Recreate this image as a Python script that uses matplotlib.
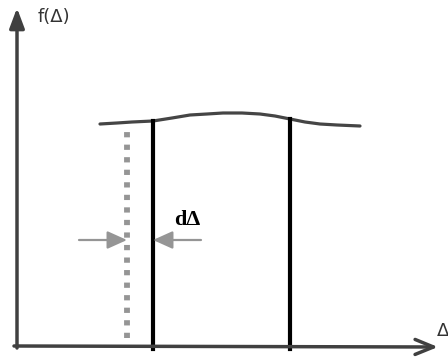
import matplotlib.pyplot as plt

# curve f(delta), read along the distribution (x = delta, y = f)
curve_x = [83, 100, 115, 136, 155, 173, 190, 206, 225, 243, 258, 273, 288, 303, 320, 343]
curve_y = [222, 223, 224, 225, 228, 231, 232, 233, 233, 232, 230, 227, 224, 222, 221, 220]

# positions of the vertical lines
solid_x = [136, 273]
solid_top = [225, 227]
dotted_x = 110
dotted_span = (8, 221)

# the d-delta marker
arrow_y = 106
left_arrow = (62, 110)
right_arrow = (184, 136)

axis_color = "#404040"
gray = "#959595"

fig = plt.figure(figsize=(4.48, 3.62), dpi=100)
ax = fig.add_axes([0, 0, 1, 1])
ax.set_xlim(-17, 431)
ax.set_ylim(-16, 346)
ax.axis("off")

# axes with arrow heads
ax.annotate("", xy=(0, 338), xytext=(0, -2),
            arrowprops=dict(arrowstyle="-|>,head_length=1.2,head_width=0.45",
                            mutation_scale=10, lw=2.5, color=axis_color,
                            shrinkA=0, shrinkB=0))
ax.annotate("", xy=(421, -1), xytext=(-3, 0),
            arrowprops=dict(arrowstyle="->,head_length=1.1,head_width=0.45",
                            mutation_scale=12, lw=2.5, color=axis_color,
                            shrinkA=0, shrinkB=0))

ax.text(21, 329, "f(Δ)", fontsize=13, family="DejaVu Sans", color="#333333",
        ha="left", va="center")
ax.text(420, 15, "Δ", fontsize=13, family="DejaVu Sans", color="#333333",
        ha="left", va="center")

# distribution curve
ax.plot(curve_x, curve_y, color="#454545", lw=2.3, solid_capstyle="round")

# solid boundaries
for x, top in zip(solid_x, solid_top):
    ax.plot([x, x], [-3, top], color="black", lw=3)

# shifted boundary (dotted)
ax.plot([dotted_x, dotted_x], dotted_span, color=gray, lw=4.2,
        linestyle=(0, (0.9, 1.25)), dash_capstyle="butt")

# width arrows
for start, end in (left_arrow, right_arrow):
    ax.annotate("", xy=(end, arrow_y), xytext=(start, arrow_y),
                arrowprops=dict(arrowstyle="-|>,head_length=1.0,head_width=0.45",
                                mutation_scale=12, lw=1.6, color=gray,
                                shrinkA=0, shrinkB=0))

ax.text(170, 126, "dΔ", fontsize=16, family="Liberation Serif",
        fontweight="bold", color="black", ha="center", va="center")

fig.savefig("out.png", dpi=100, facecolor="white")
